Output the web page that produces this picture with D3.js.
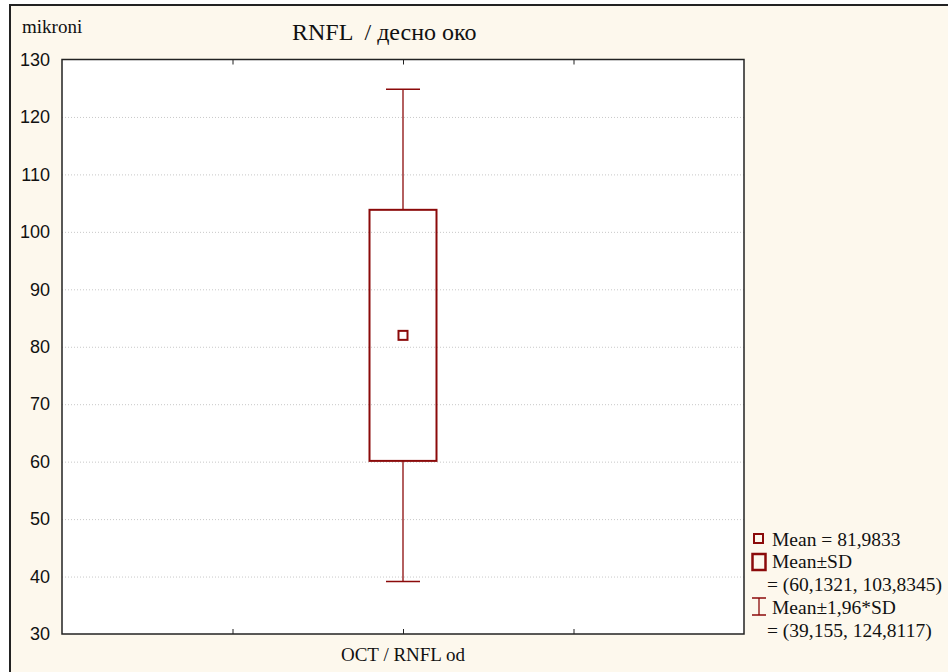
<!DOCTYPE html>
<html>
<head>
<meta charset="utf-8">
<script src="https://cdn.jsdelivr.net/npm/d3@7/dist/d3.min.js"></script>
<style>
	body { margin: 0; background: #fff; }
	svg { display: block; }
</style>
</head>
<body>
<div id="chart"></div>
<script>
// chart values
var categories = ["OCT / RNFL od"];
var means = [81.9833];
var sdLow = [60.1321];
var sdHigh = [103.8345];
var ciLow = [39.155];
var ciHigh = [124.8117];
var yTicks = [30, 40, 50, 60, 70, 80, 90, 100, 110, 120, 130];
var xTicks = [0.25, 0.5, 0.75];
var legendLabels = ["Mean = 81,9833", "Mean±SD", "= (60,1321, 103,8345)", "Mean±1,96*SD", "= (39,155, 124,8117)"];

var W = 948, H = 672;
var plot = {left: 62, top: 59.5, right: 744, bottom: 634};
var red = "#8b0a0a";
var serif = "'Liberation Serif', 'Times New Roman', 'DejaVu Serif', serif";
var sans = "'Liberation Sans', Arial, sans-serif";

var svg = d3.select("#chart").append("svg")
	.attr("width", W)
	.attr("height", H);

// outer frame
svg.append("rect")
	.attr("x", 10).attr("y", 5)
	.attr("width", W + 20).attr("height", H + 20)
	.attr("fill", "#fdf8ed")
	.attr("stroke", "#222")
	.attr("stroke-width", 2);

var x = d3.scaleLinear().domain([0, 1]).range([plot.left, plot.right]);
var y = d3.scaleLinear().domain([30, 130]).range([plot.bottom, plot.top]);

// plot area
svg.append("rect")
	.attr("x", plot.left).attr("y", plot.top)
	.attr("width", plot.right - plot.left).attr("height", plot.bottom - plot.top)
	.attr("fill", "#fff");

// gridlines
svg.append("g")
	.attr("transform", "translate(" + plot.left + ",0)")
	.call(d3.axisLeft(y).tickValues(yTicks.slice(1, -1)).tickSize(-(plot.right - plot.left)).tickFormat(""))
	.call(function (g) {
		g.select(".domain").remove();
		g.selectAll("line").attr("stroke", "#c8c8c8").attr("stroke-dasharray", "1,2");
	});

// y labels
svg.append("g")
	.attr("transform", "translate(" + plot.left + ",0)")
	.call(d3.axisLeft(y).tickValues(yTicks).tickSize(0).tickPadding(12))
	.call(function (g) {
		g.select(".domain").remove();
		g.attr("font-family", sans).attr("font-size", 18);
		g.selectAll("text").attr("fill", "#111");
	});

// x ticks, pointing inward at top and bottom
svg.append("g")
	.attr("transform", "translate(0," + plot.bottom + ")")
	.call(d3.axisBottom(x).tickValues(xTicks).tickSize(-5).tickFormat(""))
	.call(function (g) { g.select(".domain").remove(); g.selectAll("line").attr("stroke", "#222"); });
svg.append("g")
	.attr("transform", "translate(0," + plot.top + ")")
	.call(d3.axisTop(x).tickValues(xTicks).tickSize(-5).tickFormat(""))
	.call(function (g) { g.select(".domain").remove(); g.selectAll("line").attr("stroke", "#222"); });

// plot border
svg.append("rect")
	.attr("x", plot.left).attr("y", plot.top)
	.attr("width", plot.right - plot.left).attr("height", plot.bottom - plot.top)
	.attr("fill", "none")
	.attr("stroke", "#222")
	.attr("stroke-width", 1.5);

// boxes
var boxW = 67, capW = 34, markW = 9;
var xc = function (i) { return x((i + 0.5) / categories.length); };

categories.forEach(function (c, i) {
	var g = svg.append("g");
	// whiskers
	g.append("line")
		.attr("x1", xc(i)).attr("x2", xc(i))
		.attr("y1", y(ciHigh[i])).attr("y2", y(sdHigh[i]))
		.attr("stroke", red).attr("stroke-width", 1.3);
	g.append("line")
		.attr("x1", xc(i)).attr("x2", xc(i))
		.attr("y1", y(sdLow[i])).attr("y2", y(ciLow[i]))
		.attr("stroke", red).attr("stroke-width", 1.3);
	[ciHigh[i], ciLow[i]].forEach(function (v) {
		g.append("line")
			.attr("x1", xc(i) - capW / 2).attr("x2", xc(i) + capW / 2)
			.attr("y1", y(v)).attr("y2", y(v))
			.attr("stroke", red).attr("stroke-width", 1.5);
	});
	// box
	g.append("rect")
		.attr("x", xc(i) - boxW / 2).attr("y", y(sdHigh[i]))
		.attr("width", boxW).attr("height", y(sdLow[i]) - y(sdHigh[i]))
		.attr("fill", "none").attr("stroke", red).attr("stroke-width", 2);
	// mean
	g.append("rect")
		.attr("x", xc(i) - markW / 2).attr("y", y(means[i]) - markW / 2)
		.attr("width", markW).attr("height", markW)
		.attr("fill", "none").attr("stroke", red).attr("stroke-width", 2);

	svg.append("text")
		.attr("font-family", serif).attr("fill", "#111")
		.attr("x", xc(i)).attr("y", 661)
		.attr("text-anchor", "middle")
		.attr("font-size", 19)
		.text(c);
});

// titles
svg.append("text")
	.attr("font-family", serif).attr("fill", "#111")
	.attr("x", 22).attr("y", 33)
	.attr("font-size", 19)
	.text("mikroni");
svg.append("text")
	.attr("font-family", serif).attr("fill", "#111")
	.attr("x", 292).attr("y", 40)
	.attr("font-size", 24)
	.style("white-space", "pre")
	.text("RNFL  / десно око");

// legend
var lg = svg.append("g");
lg.append("rect")
	.attr("x", 754).attr("y", 534).attr("width", 9).attr("height", 9)
	.attr("fill", "none").attr("stroke", red).attr("stroke-width", 2);
lg.append("rect")
	.attr("x", 752.5).attr("y", 554).attr("width", 13).attr("height", 16)
	.attr("fill", "none").attr("stroke", red).attr("stroke-width", 2.5);
lg.append("line")
	.attr("x1", 759).attr("x2", 759).attr("y1", 598).attr("y2", 615)
	.attr("stroke", red).attr("stroke-width", 1.3);
[598, 615].forEach(function (v) {
	lg.append("line")
		.attr("x1", 752).attr("x2", 766).attr("y1", v).attr("y2", v)
		.attr("stroke", red).attr("stroke-width", 1.5);
});

var legendX = [772, 772, 767, 772, 767];
var legendY = [546, 568, 591, 614, 637];
legendLabels.forEach(function (t, i) {
	lg.append("text")
		.attr("font-family", serif).attr("fill", "#111")
		.attr("x", legendX[i]).attr("y", legendY[i])
		.attr("font-size", 19.5)
		.text(t);
});
</script>
</body>
</html>
